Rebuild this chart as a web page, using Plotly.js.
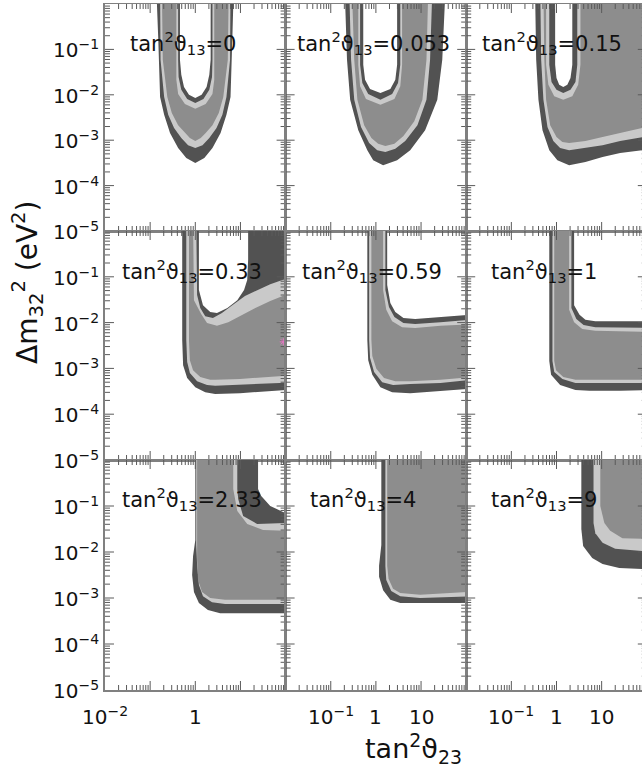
<!DOCTYPE html>
<html><head><meta charset="utf-8">
<script src="https://cdn.plot.ly/plotly-3.0.1.min.js"></script>
<style>html,body{margin:0;padding:0;overflow:hidden;background:#fff;}#chart{width:648px;height:770px;}</style>
</head><body><div id="chart"></div>
<script>
// tan^2(theta13) value of each panel, row by row
const panelTheta13 = ['0','0.053','0.15','0.33','0.59','1','2.33','4','9'];

// Allowed-region boundaries, [log10 tan^2 theta23, log10 dm^2_32]
// dark = outermost level, light = middle level, mid = innermost level
const p1_dark = [[-0.85,0.3],[-0.85,0],[-0.82,-0.79],[-0.78,-2.05],[-0.69,-2.44],[-0.56,-2.84],[-0.38,-3.17],[-0.20,-3.39],[0,-3.50],[0.20,-3.39],[0.38,-3.17],[0.56,-2.84],[0.69,-2.44],[0.78,-2.05],[0.82,-0.79],[0.85,0],[0.85,0.3],[0.34,0.3],[0.34,-1.23],[0.31,-1.56],[0.25,-1.83],[0.14,-2.00],[0,-2.07],[-0.14,-2.00],[-0.25,-1.83],[-0.31,-1.56],[-0.34,-1.23],[-0.34,0.3]];
const p1_light = [[-0.78,0.3],[-0.77,-1.23],[-0.69,-2.05],[-0.60,-2.44],[-0.47,-2.73],[-0.31,-2.95],[-0.16,-3.11],[0,-3.17],[0.16,-3.11],[0.31,-2.95],[0.47,-2.73],[0.60,-2.44],[0.69,-2.05],[0.77,-1.23],[0.78,0.3],[0.38,0.3],[0.38,-1.23],[0.37,-1.61],[0.31,-1.89],[0.18,-2.09],[0,-2.18],[-0.18,-2.09],[-0.31,-1.89],[-0.37,-1.61],[-0.38,-1.23],[-0.38,0.3]];
const p1_mid = [[-0.74,0.3],[-0.72,-1.23],[-0.62,-2.05],[-0.52,-2.40],[-0.38,-2.67],[-0.23,-2.84],[-0.12,-2.95],[0,-3.02],[0.12,-2.95],[0.23,-2.84],[0.38,-2.67],[0.52,-2.40],[0.62,-2.05],[0.72,-1.23],[0.74,0.3],[0.42,0.3],[0.42,-1.23],[0.42,-1.67],[0.38,-1.98],[0.23,-2.20],[0,-2.31],[-0.23,-2.20],[-0.38,-1.98],[-0.42,-1.67],[-0.42,-1.23],[-0.42,0.3]];

const p2_dark = [[-0.68,0.3],[-0.68,0],[-0.64,-1.23],[-0.57,-2.11],[-0.39,-2.78],[-0.19,-3.22],[-0.06,-3.44],[0.16,-3.55],[0.47,-3.44],[0.76,-3.22],[1.09,-2.78],[1.36,-2.11],[1.47,-1.23],[1.54,0],[1.54,0.3],[0.47,0.3],[0.47,-1.34],[0.43,-1.67],[0.32,-1.87],[0.10,-1.96],[-0.13,-1.87],[-0.24,-1.67],[-0.28,-1.34],[-0.28,0.3]];
const p2_light = [[-0.59,0.3],[-0.55,-1.23],[-0.48,-2.11],[-0.33,-2.71],[-0.15,-3.06],[0.03,-3.22],[0.21,-3.26],[0.43,-3.19],[0.65,-3.02],[0.92,-2.67],[1.12,-2.11],[1.20,-1.23],[1.25,0.3],[0.54,0.3],[0.54,-1.34],[0.49,-1.74],[0.36,-1.98],[0.10,-2.11],[-0.17,-1.98],[-0.30,-1.74],[-0.35,-1.34],[-0.35,0.3]];
const p2_mid = [[-0.53,0.3],[-0.48,-1.23],[-0.41,-2.11],[-0.26,-2.67],[-0.10,-2.95],[0.05,-3.08],[0.21,-3.13],[0.41,-3.08],[0.61,-2.91],[0.85,-2.58],[1.03,-2.11],[1.12,-1.23],[1.16,0.3],[0.58,0.3],[0.58,-1.34],[0.54,-1.81],[0.41,-2.09],[0.10,-2.22],[-0.22,-2.09],[-0.35,-1.81],[-0.39,-1.34],[-0.39,0.3]];

const p3_dark = [[-0.47,0.3],[-0.47,0],[-0.45,-1.23],[-0.40,-2.11],[-0.31,-2.78],[-0.16,-3.22],[0.02,-3.44],[0.28,-3.55],[0.64,-3.48],[1.02,-3.37],[1.41,-3.28],[1.90,-3.22],[2.30,-3.17],[2.30,0.3],[0.35,0.3],[0.35,-1.34],[0.31,-1.63],[0.24,-1.78],[0.15,-1.83],[0.06,-1.78],[0.00,-1.63],[-0.03,-1.34],[-0.03,0.3]];
const p3_light = [[-0.36,0.3],[-0.34,-1.23],[-0.29,-2.11],[-0.20,-2.71],[-0.07,-3.02],[0.08,-3.17],[0.28,-3.22],[0.64,-3.17],[1.02,-3.11],[1.41,-3.02],[1.90,-2.93],[2.30,-2.86],[2.30,0.3],[0.46,0.3],[0.46,-1.34],[0.42,-1.72],[0.31,-1.89],[0.15,-1.96],[0.00,-1.89],[-0.11,-1.72],[-0.16,-1.34],[-0.16,0.3]];
const p3_mid = [[-0.29,0.3],[-0.27,-1.23],[-0.23,-2.11],[-0.14,-2.67],[0.00,-2.93],[0.13,-3.04],[0.28,-3.06],[0.64,-3.02],[1.02,-2.93],[1.41,-2.84],[1.90,-2.73],[2.30,-2.67],[2.30,0.3],[0.53,0.3],[0.53,-1.34],[0.48,-1.78],[0.35,-2.03],[0.15,-2.11],[-0.05,-2.03],[-0.18,-1.78],[-0.23,-1.34],[-0.23,0.3]];

const p4_dark = [[-0.29,0.3],[-0.29,-2.38],[-0.27,-2.93],[-0.18,-3.21],[0.00,-3.41],[0.22,-3.52],[0.44,-3.56],[0.99,-3.54],[2.30,-3.45],[2.30,0.3],[1.17,0.3],[1.17,-0.63],[1.15,-1.07],[1.08,-1.29],[0.93,-1.51],[0.71,-1.68],[0.48,-1.79],[0.33,-1.77],[0.17,-1.62],[0.08,-1.29],[0.08,0.3]];
const p4_light = [[-0.20,0.3],[-0.20,-2.38],[-0.18,-2.86],[-0.12,-3.10],[0.04,-3.28],[0.26,-3.36],[0.44,-3.38],[0.99,-3.36],[2.30,-3.30],[2.30,-1.00],[1.99,-1.05],[1.66,-1.16],[1.33,-1.31],[1.10,-1.42],[0.82,-1.62],[0.59,-1.79],[0.39,-1.90],[0.22,-1.86],[0.11,-1.68],[0.04,-1.40],[0.02,0.3]];
const p4_mid = [[-0.14,0.3],[-0.14,-2.38],[-0.12,-2.82],[-0.05,-3.04],[0.11,-3.19],[0.33,-3.25],[0.44,-3.25],[0.99,-3.23],[2.30,-3.14],[2.30,-1.36],[1.99,-1.40],[1.66,-1.53],[1.33,-1.68],[0.99,-1.86],[0.73,-1.99],[0.48,-2.07],[0.26,-2.01],[0.13,-1.81],[-0.03,-1.51],[-0.05,0.3]];

const p5_dark = [[-0.19,0.3],[-0.19,-2.38],[-0.17,-2.82],[-0.08,-3.14],[0.10,-3.41],[0.36,-3.52],[0.76,-3.54],[1.43,-3.49],[2.30,-3.43],[2.30,-1.81],[2.00,-1.83],[1.43,-1.88],[0.87,-1.92],[0.61,-1.90],[0.43,-1.77],[0.32,-1.57],[0.25,-1.18],[0.25,0.3]];
const p5_light = [[-0.15,0.3],[-0.15,-2.38],[-0.13,-2.77],[-0.04,-3.08],[0.14,-3.30],[0.38,-3.36],[0.76,-3.34],[1.43,-3.32],[2.30,-3.23],[2.30,-1.92],[1.43,-1.99],[0.87,-2.03],[0.61,-2.01],[0.41,-1.88],[0.29,-1.66],[0.21,-1.29],[0.21,0.3]];
const p5_mid = [[-0.10,0.3],[-0.10,-2.38],[-0.08,-2.73],[0.01,-3.01],[0.18,-3.21],[0.43,-3.28],[0.76,-3.28],[1.43,-3.25],[2.30,-3.17],[2.30,-2.03],[1.43,-2.07],[0.87,-2.12],[0.58,-2.10],[0.36,-1.97],[0.23,-1.72],[0.16,-1.29],[0.16,0.3]];

const p6_dark = [[-0.16,0.3],[-0.16,-2.84],[-0.12,-3.14],[0.08,-3.36],[0.42,-3.47],[0.73,-3.49],[1.41,-3.49],[2.30,-3.47],[2.30,-1.97],[0.86,-1.97],[0.64,-1.94],[0.51,-1.83],[0.39,-1.62],[0.39,0.3]];
const p6_light = [[-0.09,0.3],[-0.09,-2.84],[-0.05,-3.08],[0.13,-3.23],[0.42,-3.32],[0.73,-3.32],[2.30,-3.32],[2.30,-2.12],[0.86,-2.10],[0.60,-2.05],[0.44,-1.92],[0.33,-1.68],[0.33,0.3]];
const p6_mid = [[-0.05,0.3],[-0.05,-2.84],[-0.01,-3.04],[0.15,-3.19],[0.42,-3.25],[0.73,-3.25],[2.30,-3.25],[2.30,-2.21],[0.86,-2.18],[0.57,-2.14],[0.39,-1.99],[0.28,-1.72],[0.28,0.3]];

const p7_dark = [[0.00,0.3],[0.00,-1.74],[-0.05,-2.09],[-0.07,-2.50],[-0.03,-2.87],[0.08,-3.11],[0.28,-3.26],[0.55,-3.33],[2.30,-3.33],[2.30,-1.15],[1.99,-1.15],[1.66,-1.00],[1.46,-0.78],[1.39,-0.63],[1.39,0.3]];
const p7_light = [[0.02,0.3],[0.02,-1.85],[0.04,-2.28],[0.08,-2.72],[0.17,-2.96],[0.37,-3.09],[0.66,-3.13],[2.30,-3.13],[2.30,-1.37],[1.99,-1.37],[1.37,-1.39],[1.06,-1.22],[0.95,-0.85],[0.93,-0.63],[0.93,0.3]];
const p7_mid = [[0.04,0.3],[0.04,-2.17],[0.06,-2.61],[0.15,-2.87],[0.33,-3.00],[0.66,-3.04],[2.30,-3.04],[2.30,-1.54],[1.99,-1.54],[1.50,-1.52],[1.15,-1.39],[0.93,-1.11],[0.84,-0.63],[0.84,0.3]];

const p8_dark = [[0.12,0.3],[0.12,-1.85],[0.07,-2.30],[0.07,-2.54],[0.16,-2.83],[0.32,-3.04],[0.54,-3.11],[2.30,-3.11],[2.30,0.3]];
const p8_light = [[0.21,0.3],[0.21,-2.30],[0.23,-2.61],[0.34,-2.85],[0.54,-2.96],[0.98,-3.00],[2.30,-2.96],[2.30,0.3]];
const p8_mid = [[0.25,0.3],[0.25,-2.30],[0.28,-2.58],[0.38,-2.80],[0.54,-2.89],[0.98,-2.93],[2.30,-2.85],[2.30,0.3]];

const p9_dark = [[0.55,0.3],[0.55,-1.50],[0.59,-1.87],[0.79,-2.13],[1.02,-2.26],[1.39,-2.35],[1.90,-2.37],[2.30,-2.37],[2.30,0.3]];
const p9_light = [[0.82,0.3],[0.82,-1.37],[0.86,-1.59],[1.02,-1.80],[1.30,-1.93],[1.90,-1.98],[2.30,-1.98],[2.30,0.3]];
const p9_mid = [[0.97,0.3],[0.97,-1.00],[1.06,-1.37],[1.19,-1.54],[1.46,-1.70],[1.90,-1.72],[2.30,-1.72],[2.30,0.3]];

// small marker in panel 4 (tan^2 theta13 = 0.33)
const p4_marker = [[1.95,-2.42]];

// axis decades and tick labels
const xDecades = [-2,-1,0,1];
const yDecades = [-5,-4,-3,-2,-1];
const yTickExp = [-1,-2,-3,-4,-5];
const yTickText = ['10<sup>−1</sup>','10<sup>−2</sup>','10<sup>−3</sup>','10<sup>−4</sup>','10<sup>−5</sup>'];
const xTickExpByCol = [[-2,0],[-1,0,1],[-1,0,1]];
const xTickTextByCol = [['10<sup>−2</sup>','1'],['10<sup>−1</sup>','1','10'],['10<sup>−1</sup>','1','10']];

const panels = [
  [p1_dark,p1_light,p1_mid],[p2_dark,p2_light,p2_mid],[p3_dark,p3_light,p3_mid],
  [p4_dark,p4_light,p4_mid],[p5_dark,p5_light,p5_mid],[p6_dark,p6_light,p6_mid],
  [p7_dark,p7_light,p7_mid],[p8_dark,p8_light,p8_mid],[p9_dark,p9_light,p9_mid]
];

// ---------------- layout geometry / style ----------------
const W = 648, H = 770;
const colEdges = [105, 285.6, 466.2, 646.8];
const rowEdges = [4, 231, 460, 690];
const labelPos = [[128,43],[295,43],[480,43],[120,271],[300,271],[489,271],[120,499],[308,499],[489,499]];
const levelColors = ['#525252', '#c9c9c9', '#8d8d8d'];
const FONT = 'DejaVu Sans, Verdana, sans-serif';
const TICKC = '#5a5a5a', MAJOR = 9, MINOR = 5;
const px2x = p => Math.round(p / W * 1e6) / 1e6;
const py2y = p => Math.round((1 - p / H) * 1e6) / 1e6;
const ax = (k, i) => (i === 0 ? k : k + (i + 1));
const p10 = v => Math.pow(10, v);

const traces = [];
const annotations = [];
const layout = {
  width: W, height: H, margin: {l:0, r:0, t:0, b:0}, showlegend: false,
  annotations: annotations
};

function makeAxis(extra) {
  return Object.assign({
    type: 'log', showline: true, linecolor: '#808080', linewidth: 1.5, mirror: true,
    ticks: '', showticklabels: false, showgrid: false, zeroline: false, fixedrange: true
  }, extra);
}

// inward log tick marks (decades + 2..9 minor) on all four sides, drawn as one line trace per panel
function tickTrace(xa, ya, r, c) {
  const ppdX = (colEdges[c + 1] - colEdges[c]) / 4;
  const ppdY = (rowEdges[r + 1] - rowEdges[r]) / 5;
  const xs = [], ys = [];
  xDecades.forEach(d => {
    for (let k = 1; k <= 9; k++) {
      if (d === xDecades[0] && k === 1) continue;
      const v = d + Math.log10(k), dl = (k === 1 ? MAJOR : MINOR) / ppdY;
      xs.push(p10(v), p10(v), null, p10(v), p10(v), null);
      ys.push(p10(-5), p10(-5 + dl), null, p10(0), p10(-dl), null);
    }
  });
  yDecades.forEach(d => {
    for (let k = 1; k <= 9; k++) {
      if (d === yDecades[0] && k === 1) continue;
      const v = d + Math.log10(k), dl = (k === 1 ? MAJOR : MINOR) / ppdX;
      xs.push(p10(-2), p10(-2 + dl), null, p10(2), p10(2 - dl), null);
      ys.push(p10(v), p10(v), null, p10(v), p10(v), null);
    }
  });
  return {type: 'scatter', mode: 'lines', x: xs, y: ys, xaxis: xa, yaxis: ya,
          connectgaps: false, line: {color: TICKC, width: 1}};
}

panels.forEach((levels, i) => {
  const r = Math.floor(i / 3), c = i % 3;
  const xa = ax('x', i), ya = ax('y', i);
  levels.forEach((poly, k) => {
    traces.push({
      type: 'scatter', mode: 'lines', fill: 'toself',
      x: poly.map(p => p10(p[0])), y: poly.map(p => p10(p[1])),
      xaxis: xa, yaxis: ya, fillcolor: levelColors[k], line: {width: 0, color: levelColors[k]}
    });
  });
  traces.push(tickTrace(xa, ya, r, c));
  const xname = i === 0 ? 'xaxis' : 'xaxis' + (i + 1);
  const yname = i === 0 ? 'yaxis' : 'yaxis' + (i + 1);
  layout[xname] = makeAxis({range: [-2, 2], anchor: ya, domain: [px2x(colEdges[c]), px2x(colEdges[c + 1])]});
  layout[yname] = makeAxis({range: [-5, 0], anchor: xa, domain: [py2y(rowEdges[r + 1]), py2y(rowEdges[r])]});
  annotations.push({
    xref: 'paper', yref: 'paper', x: px2x(labelPos[i][0]), y: py2y(labelPos[i][1]),
    xanchor: 'left', yanchor: 'middle', showarrow: false,
    text: 'tan<sup>2</sup>ϑ<sub>13</sub>=' + panelTheta13[i],
    font: {family: FONT, size: 21, color: '#111'}
  });
  if (c === 0) {
    yTickExp.forEach((e, j) => annotations.push({
      xref: 'paper', yref: ya, x: px2x(101), y: e, xanchor: 'right', yanchor: 'middle',
      showarrow: false, text: yTickText[j], font: {family: FONT, size: 20, color: '#111'}
    }));
  }
  if (r === 2) {
    xTickExpByCol[c].forEach((e, j) => annotations.push({
      xref: xa, yref: 'paper', x: e, y: py2y(731), xanchor: 'center', yanchor: 'bottom',
      showarrow: false, text: xTickTextByCol[c][j], font: {family: FONT, size: 20, color: '#111'}
    }));
  }
});

traces.push({
  type: 'scatter', mode: 'markers', xaxis: 'x4', yaxis: 'y4',
  x: p4_marker.map(p => p10(p[0])), y: p4_marker.map(p => p10(p[1])),
  marker: {symbol: 'asterisk-open', size: 6, line: {width: 1, color: '#000'}}
});

annotations.push({
  xref: 'paper', yref: 'paper', x: px2x(363), y: py2y(749), xanchor: 'left', yanchor: 'middle',
  showarrow: false, text: 'tan<sup>2</sup>ϑ<sub>23</sub>', font: {family: FONT, size: 27, color: '#111'}
});
annotations.push({
  xref: 'paper', yref: 'paper', x: px2x(28), y: py2y(283), xanchor: 'center', yanchor: 'middle',
  showarrow: false, textangle: -90, text: 'Δm<sub>32</sub><sup>2</sup> (eV<sup>2</sup>)',
  font: {family: FONT, size: 28, color: '#111'}
});

Plotly.newPlot('chart', traces, layout, {displayModeBar: false, staticPlot: true});
</script></body></html>
